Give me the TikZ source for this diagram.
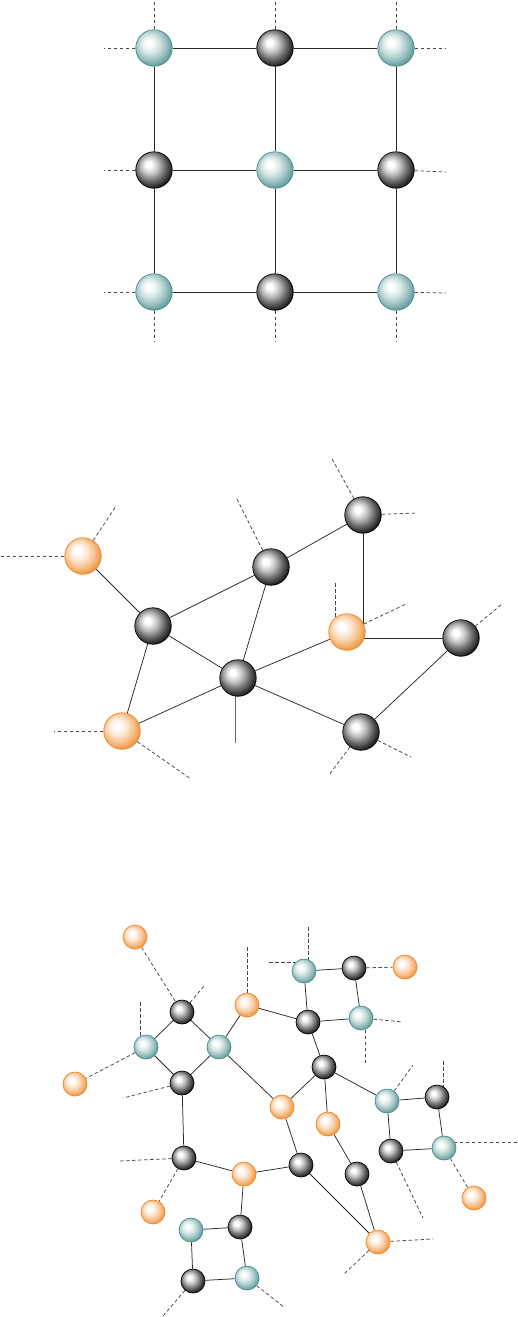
\documentclass[tikz,border=0pt]{standalone}
\usepackage{tikz}
\usetikzlibrary{backgrounds,positioning}

\definecolor{tealc}{RGB}{72,140,140}
\definecolor{orangec}{RGB}{238,134,34}
\definecolor{bondc}{RGB}{40,40,40}
\definecolor{stubc}{RGB}{70,70,70}

\pgfdeclareradialshading{tealball}{\pgfpoint{-8bp}{8bp}}{color(0bp)=(white); color(4bp)=(white); color(12bp)=(tealc!20!white); color(20bp)=(tealc!50!white); color(28bp)=(tealc!85!white); color(33bp)=(tealc); color(50bp)=(tealc)}
\pgfdeclareradialshading{orangeball}{\pgfpoint{-8bp}{8bp}}{color(0bp)=(white); color(4bp)=(white); color(12bp)=(orangec!20!white); color(20bp)=(orangec!50!white); color(28bp)=(orangec!85!white); color(33bp)=(orangec); color(50bp)=(orangec)}
\pgfdeclareradialshading{darkball}{\pgfpoint{-8bp}{8bp}}{color(0bp)=(white); color(4bp)=(white); color(12bp)=(black!25); color(20bp)=(black!58); color(28bp)=(black!88); color(33bp)=(black); color(50bp)=(black)}

\begin{document}
\begin{tikzpicture}[x=1pt, y=-1pt]
			\tikzstyle{Ball}	= [circle, inner sep=0pt, minimum size=36.5pt, line width=0.7pt]
			\tikzstyle{Teal}	= [Ball, draw=tealc, shading=tealball]
			\tikzstyle{Dark}	= [Ball, draw=black, shading=darkball]
			\tikzstyle{Orange}	= [Ball, draw=orangec, shading=orangeball]
			\tikzstyle{Small}	= [minimum size=24pt]
			\tikzstyle{Bond}	= [line width=0.75pt, bondc]
			\tikzstyle{Stub}	= [line width=0.75pt, stubc, dash pattern=on 3.5pt off 2.5pt]

			\useasboundingbox (0,0) rectangle (517,1317);

			% square lattice
			\node (a1) at (154, 48) [Teal] {};
			\node (a2) at (275, 48) [Dark] {};
			\node (a3) at (396, 48) [Teal] {};
			\node (a4) at (154,170) [Dark] {};
			\node (a5) at (275,170) [Teal] {};
			\node (a6) at (396,170) [Dark] {};
			\node (a7) at (154,292) [Teal] {};
			\node (a8) at (275,292) [Dark] {};
			\node (a9) at (396,292) [Teal] {};

			\coordinate (a1u) at (154,0);
			\coordinate (a2u) at (275,0);
			\coordinate (a3u) at (396,0);
			\coordinate (a1l) at (104,48);
			\coordinate (a4l) at (104,170);
			\coordinate (a7l) at (104,292);
			\coordinate (a3r) at (446,48);
			\coordinate (a6r) at (446,172);
			\coordinate (a9r) at (446,293);
			\coordinate (a7d) at (154,342);
			\coordinate (a8d) at (275,342);
			\coordinate (a9d) at (396,342);

			% random network
			\node (b1) at ( 83,556) [Orange] {};
			\node (b2) at (153,626) [Dark] {};
			\node (b3) at (271,567) [Dark] {};
			\node (b4) at (363,515) [Dark] {};
			\node (b5) at (347,632) [Orange] {};
			\node (b6) at (461,638) [Dark] {};
			\node (b7) at (238,678) [Dark] {};
			\node (b8) at (122,731) [Orange] {};
			\node (b9) at (361,732) [Dark] {};

			\coordinate (b1l) at (0,556);
			\coordinate (b1u) at (116,506);
			\coordinate (b3u) at (237,499);
			\coordinate (b4u) at (331,457);
			\coordinate (b4r) at (417,513);
			\coordinate (b5u) at (335,583);
			\coordinate (b5r) at (406,604);
			\coordinate (b6r) at (502,604);
			\coordinate (b7d) at (235,743);
			\coordinate (b8l) at (54,731);
			\coordinate (b8r) at (191,779);
			\coordinate (b9l) at (329,775);
			\coordinate (b9r) at (411,757);

			% decorated network
			\node (c1)  at (135, 937) [Orange][Small] {};
			\node (c2)  at (182,1012) [Dark][Small] {};
			\node (c3)  at (146,1047) [Teal][Small] {};
			\node (c4)  at (219,1047) [Teal][Small] {};
			\node (c5)  at (182,1083) [Dark][Small] {};
			\node (c6)  at ( 75,1084) [Orange][Small] {};
			\node (c7)  at (247,1005) [Orange][Small] {};
			\node (c8)  at (282,1107) [Orange][Small] {};
			\node (c9)  at (304, 971) [Teal][Small] {};
			\node (c10) at (354, 968) [Dark][Small] {};
			\node (c11) at (405, 967) [Orange][Small] {};
			\node (c12) at (308,1022) [Dark][Small] {};
			\node (c13) at (361,1018) [Teal][Small] {};
			\node (c14) at (324,1067) [Dark][Small] {};
			\node (c15) at (387,1101) [Teal][Small] {};
			\node (c16) at (437,1097) [Dark][Small] {};
			\node (c17) at (328,1124) [Orange][Small] {};
			\node (c18) at (391,1151) [Dark][Small] {};
			\node (c19) at (444,1148) [Teal][Small] {};
			\node (c20) at (474,1198) [Orange][Small] {};
			\node (c21) at (357,1174) [Dark][Small] {};
			\node (c22) at (301,1165) [Dark][Small] {};
			\node (c23) at (184,1158) [Dark][Small] {};
			\node (c24) at (244,1174) [Orange][Small] {};
			\node (c25) at (153,1212) [Orange][Small] {};
			\node (c26) at (240,1227) [Dark][Small] {};
			\node (c27) at (191,1230) [Teal][Small] {};
			\node (c28) at (193,1281) [Dark][Small] {};
			\node (c29) at (247,1278) [Teal][Small] {};
			\node (c30) at (378,1242) [Orange][Small] {};

			\coordinate (c2u)  at (204,986);
			\coordinate (c3u)  at (140,1002);
			\coordinate (c5l)  at (123,1098);
			\coordinate (c7u)  at (247,947);
			\coordinate (c9u)  at (308,927);
			\coordinate (c9l)  at (269,962);
			\coordinate (c13r) at (403,1022);
			\coordinate (c13d) at (365,1063);
			\coordinate (c15u) at (413,1065);
			\coordinate (c16u) at (443,1061);
			\coordinate (c19r) at (517,1142);
			\coordinate (c18d) at (423,1218);
			\coordinate (c23l) at (120,1161);
			\coordinate (c30r) at (433,1239);
			\coordinate (c30l) at (344,1274);
			\coordinate (c28d) at (163,1316);
			\coordinate (c29d) at (284,1307);

			\begin{scope}[on background layer]
			\draw [-] (a1) to (a2) [Bond];
			\draw [-] (a2) to (a3) [Bond];
			\draw [-] (a4) to (a5) [Bond];
			\draw [-] (a5) to (a6) [Bond];
			\draw [-] (a7) to (a8) [Bond];
			\draw [-] (a8) to (a9) [Bond];
			\draw [-] (a1) to (a4) [Bond];
			\draw [-] (a4) to (a7) [Bond];
			\draw [-] (a2) to (a5) [Bond];
			\draw [-] (a5) to (a8) [Bond];
			\draw [-] (a3) to (a6) [Bond];
			\draw [-] (a6) to (a9) [Bond];

			\draw [-] (a1) to (a1u) [Stub];
			\draw [-] (a2) to (a2u) [Stub];
			\draw [-] (a3) to (a3u) [Stub];
			\draw [-] (a1) to (a1l) [Stub];
			\draw [-] (a4) to (a4l) [Stub];
			\draw [-] (a7) to (a7l) [Stub];
			\draw [-] (a3) to (a3r) [Stub];
			\draw [-] (a6) to (a6r) [Stub];
			\draw [-] (a9) to (a9r) [Stub];
			\draw [-] (a7) to (a7d) [Stub];
			\draw [-] (a8) to (a8d) [Stub];
			\draw [-] (a9) to (a9d) [Stub];

			\draw [-] (b1) to (b2) [Bond];
			\draw [-] (b2) to (b3) [Bond];
			\draw [-] (b3) to (b4) [Bond];
			\draw [-] (b4) |- (b6) [Bond];
			\draw [-] (b6) to (b9) [Bond];
			\draw [-] (b7) to (b9) [Bond];
			\draw [-] (b7) to (b5) [Bond];
			\draw [-] (b7) to (b3) [Bond];
			\draw [-] (b7) to (b2) [Bond];
			\draw [-] (b7) to (b8) [Bond];
			\draw [-] (b2) to (b8) [Bond];
			\draw [-] (b7d) to (b7d |- b7) [Bond, black!60];

			\draw [-] (b1) to (b1l) [Stub];
			\draw [-] (b1) to (b1u) [Stub];
			\draw [-] (b3) to (b3u) [Stub];
			\draw [-] (b4) to (b4u) [Stub];
			\draw [-] (b4) to (b4r) [Stub];
			\draw [-] (b5u) to (b5u |- b5) [Stub];
			\draw [-] (b5) to (b5r) [Stub];
			\draw [-] (b6) to (b6r) [Stub];
			\draw [-] (b8) to (b8l) [Stub];
			\draw [-] (b8) to (b8r) [Stub];
			\draw [-] (b9) to (b9l) [Stub];
			\draw [-] (b9) to (b9r) [Stub];

			\draw [-] (c2) to (c3) [Bond];
			\draw [-] (c2) to (c4) [Bond];
			\draw [-] (c3) to (c5) [Bond];
			\draw [-] (c4) to (c5) [Bond];
			\draw [-] (c4) to (c7) [Bond];
			\draw [-] (c4) to (c8) [Bond];
			\draw [-] (c5) to (c23) [Bond];
			\draw [-] (c7) to (c12) [Bond];
			\draw [-] (c9) to (c10) [Bond];
			\draw [-] (c9) to (c12) [Bond];
			\draw [-] (c10) to (c13) [Bond];
			\draw [-] (c12) to (c13) [Bond];
			\draw [-] (c12) to (c14) [Bond];
			\draw [-] (c14) to (c8) [Bond];
			\draw [-] (c14) to (c15) [Bond];
			\draw [-] (c14) to (c17) [Bond];
			\draw [-] (c15) to (c16) [Bond];
			\draw [-] (c15) to (c18) [Bond];
			\draw [-] (c16) to (c19) [Bond];
			\draw [-] (c18) to (c19) [Bond];
			\draw [-] (c17) to (c21) [Bond];
			\draw [-] (c21) to (c30) [Bond];
			\draw [-] (c8) to (c22) [Bond];
			\draw [-] (c22) to (c24) [Bond];
			\draw [-] (c22) to (c30) [Bond];
			\draw [-] (c23) to (c24) [Bond];
			\draw [-] (c24) to (c26) [Bond];
			\draw [-] (c26) to (c27) [Bond];
			\draw [-] (c27) to (c28) [Bond];
			\draw [-] (c26) to (c29) [Bond];
			\draw [-] (c28) to (c29) [Bond];

			\draw [-] (c1) to (c2) [Stub];
			\draw [-] (c3) to (c6) [Stub];
			\draw [-] (c10) to (c11) [Stub];
			\draw [-] (c19) to (c20) [Stub];
			\draw [-] (c23) to (c25) [Stub];
			\draw [-] (c2) to (c2u) [Stub];
			\draw [-] (c3u) to (c3u |- c3) [Stub];
			\draw [-] (c5) to (c5l) [Stub];
			\draw [-] (c7) to (c7u) [Stub];
			\draw [-] (c9u) to (c9u |- c9) [Stub];
			\draw [-] (c9l) to (c9l -| c9) [Stub];
			\draw [-] (c13) to (c13r) [Stub];
			\draw [-] (c13d) to (c13d |- c13) [Stub];
			\draw [-] (c15) to (c15u) [Stub];
			\draw [-] (c16u) to (c16u |- c16) [Stub];
			\draw [-] (c19r) to (c19r -| c19) [Stub];
			\draw [-] (c18) to (c18d) [Stub];
			\draw [-] (c23) to (c23l) [Stub];
			\draw [-] (c30) to (c30r) [Stub];
			\draw [-] (c30) to (c30l) [Stub];
			\draw [-] (c28) to (c28d) [Stub];
			\draw [-] (c29) to (c29d) [Stub];
			\end{scope}
		\end{tikzpicture}
\end{document}
